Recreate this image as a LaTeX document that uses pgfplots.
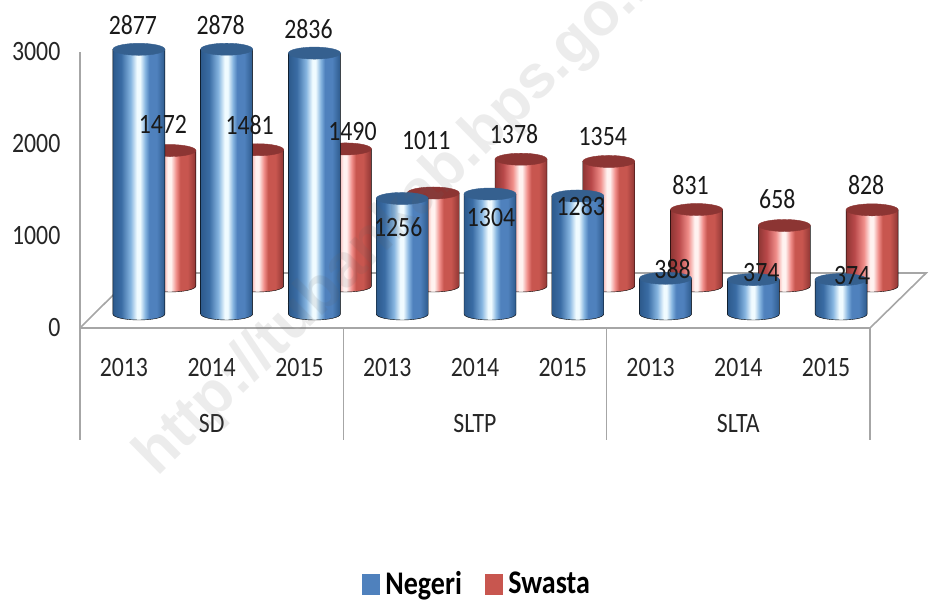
\documentclass[border=0pt]{standalone}
\usepackage{pgfplots}
\usepackage{pgfplotstable}
\pgfplotsset{compat=1.18}
\usepackage{fontspec}
\setmainfont[FakeStretch=0.85]{Carlito}
\newfontfamily\wm{Liberation Sans}
\definecolor{bE}{HTML}{2D5A8C}\definecolor{bA}{HTML}{3A6CA4}\definecolor{bB}{HTML}{86B5E0}
\definecolor{bC}{HTML}{F0FBFF}\definecolor{bD}{HTML}{4F81BD}\definecolor{bT}{HTML}{35608F}
\definecolor{rE}{HTML}{8F3634}\definecolor{rA}{HTML}{B9494A}\definecolor{rB}{HTML}{F08E8A}
\definecolor{rC}{HTML}{FFF2F0}\definecolor{rD}{HTML}{C8564F}\definecolor{rT}{HTML}{8C3533}
\pgfdeclarehorizontalshading{blueCyl}{100bp}{color(0bp)=(bE);color(25bp)=(bE);color(33bp)=(bA);color(42bp)=(bB);color(48bp)=(bC);color(51bp)=(bC);color(56bp)=(bB);color(60bp)=(bD);color(67bp)=(bD);color(75bp)=(bE);color(100bp)=(bE)}
\pgfdeclarehorizontalshading{redCyl}{100bp}{color(0bp)=(rE);color(25bp)=(rE);color(33bp)=(rA);color(42bp)=(rB);color(48bp)=(rC);color(51bp)=(rC);color(56bp)=(rB);color(60bp)=(rD);color(67bp)=(rD);color(75bp)=(rE);color(100bp)=(rE)}
\pgfdeclareplotmark{cylblue}{%
  \path[shading=blueCyl] (-26pt,0pt) -- (-26pt,-\hh pt) arc[start angle=180,end angle=360,x radius=26pt,y radius=6pt] -- (26pt,0pt) -- cycle;
  \fill[bT] (0pt,0pt) ellipse[x radius=26pt,y radius=6pt];}
\pgfdeclareplotmark{cylred}{%
  \path[shading=redCyl] (-26pt,0pt) -- (-26pt,-\hh pt) arc[start angle=180,end angle=360,x radius=26pt,y radius=6pt] -- (26pt,0pt) -- cycle;
  \fill[rT] (0pt,0pt) ellipse[x radius=26pt,y radius=6pt];}
\pgfplotstableread{
i v dx dy
0 2877 -6 24
1 2878 -6 24
2 2836 -6 24
3 1256 -4 -29
4 1304 1 -23
5 1283 3 -10
6 388 7 9
7 374 8 7
8 374 11 4
}\negeri
\pgfplotstableread{
i v dx dy
0 1472 -7 26
1 1481 -8 25
2 1490 7 17
3 1011 -7 52
4 1378 -7 25
5 1354 -6 25
6 831 -6 25
7 658 -7 26
8 828 -6 25
}\swasta
\tikzset{lbl/.style={font=\fontsize{28}{28}\selectfont,text=black!85,inner sep=0pt}}
\pgfplotsset{
  base/.style={scale only axis,width=790pt,height=276pt,xmin=-0.5,xmax=8.5,ymin=0,ymax=3000,clip=false},
  hidden/.style={base,hide axis},
  cyl/.style={only marks,scatter,mark=#1,
    scatter/@pre marker code/.code={},scatter/@post marker code/.code={},
    visualization depends on={\thisrow{v}*0.092 \as \hh}},
  lab/.style={draw=none,mark=none,only marks,
    visualization depends on={\thisrow{dx} \as \ddx},
    visualization depends on={\thisrow{dy} \as \ddy},
    point meta=explicit symbolic,
    nodes near coords,
    every node near coord/.append style={anchor=center,inner sep=0pt,font=\fontsize{28}{28}\selectfont,text=black!90,xshift=\ddx pt,yshift=\ddy pt}},
}
\begin{document}
\begin{tikzpicture}[x=1pt,y=1pt]
\path[use as bounding box] (0,0) rectangle (929,600);
% frame
\begin{axis}[base,at={(80pt,272pt)},anchor=south west,
  axis x line=none,axis y line=left,y axis line style={-,draw=black!35,line width=1.6pt},
  ytick={0,1000,2000,3000},tick style={draw=none},
  /pgf/number format/assume math mode=true,/pgf/number format/1000 sep={},
  yticklabel style={font=\fontsize{28}{28}\selectfont,text=black!85,xshift=-14pt},
  legend style={at={(axis cs:2.71,-2780)},anchor=west,draw=none,fill=none,legend columns=2,inner sep=0pt,
    font=\bfseries\fontsize{33}{33}\selectfont,/tikz/every even column/.append style={column sep=21pt}},
  legend image code/.code={\fill[#1] (0pt,-10pt) rectangle (17pt,10pt);\fill[white,opacity=0] (0pt,-1pt) rectangle (21pt,1pt);}]
\addlegendimage{bD}\addlegendentry{Negeri}
\addlegendimage{rD}\addlegendentry{Swasta}
\end{axis}
% floor and separators
\begin{axis}[hidden,at={(80pt,272pt)},anchor=south west]
\addplot[black!35,line width=1.6pt] coordinates {(-0.5,0)(8.5,0)(9.14,598)(0.13,598)(-0.5,0)};
\addplot[black!35,line width=1.6pt] coordinates {(-0.5,0)(-0.5,-1220)};
\addplot[black!35,line width=1.6pt] coordinates {(2.5,0)(2.5,-1220)};
\addplot[black!35,line width=1.6pt] coordinates {(5.5,0)(5.5,-1220)};
\addplot[black!35,line width=1.6pt] coordinates {(8.5,0)(8.5,-1220)};
\node[lbl] at (axis cs:0,-425) {2013};\node[lbl] at (axis cs:1,-425) {2014};\node[lbl] at (axis cs:2,-425) {2015};
\node[lbl] at (axis cs:3,-425) {2013};\node[lbl] at (axis cs:4,-425) {2014};\node[lbl] at (axis cs:5,-425) {2015};
\node[lbl] at (axis cs:6,-425) {2013};\node[lbl] at (axis cs:7,-425) {2014};\node[lbl] at (axis cs:8,-425) {2015};
\node[lbl] at (axis cs:1,-1040) {SD};\node[lbl] at (axis cs:4,-1040) {SLTP};\node[lbl] at (axis cs:7,-1040) {SLTA};
\end{axis}
% Swasta cylinders
\begin{axis}[hidden,at={(126pt,314pt)},anchor=south west]
\addplot[cyl=cylred] table[x=i,y=v] {\swasta};
\end{axis}
% Negeri cylinders
\begin{axis}[hidden,at={(95pt,286pt)},anchor=south west]
\addplot[cyl=cylblue] table[x=i,y=v] {\negeri};
\end{axis}
% labels
\begin{axis}[hidden,at={(126pt,314pt)},anchor=south west]
\addplot[lab] table[x=i,y=v,meta=v] {\swasta};
\end{axis}
\begin{axis}[hidden,at={(95pt,286pt)},anchor=south west]
\addplot[lab] table[x=i,y=v,meta=v] {\negeri};
\end{axis}
% watermark
\begin{scope}
\clip (0,0) rectangle (929,600);
\node[rotate=44.5,anchor=base west,inner sep=0pt,opacity=0.12,text=black!60,font=\wm\bfseries\fontsize{61}{61}\selectfont] at (157,122) {http://tubankab.bps.go.id};
\end{scope}
\end{tikzpicture}
\end{document}
